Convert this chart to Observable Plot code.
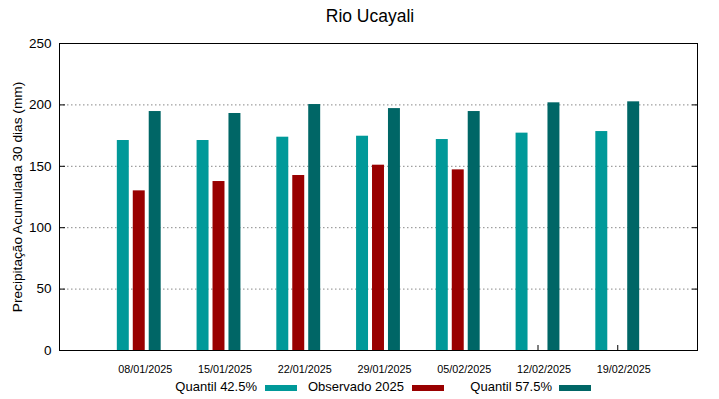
<!DOCTYPE html>
<html>
<head>
<meta charset="utf-8">
<script src="https://cdn.jsdelivr.net/npm/d3@7"></script>
<script src="https://cdn.jsdelivr.net/npm/@observablehq/plot@0.6"></script>
<style>
  body { margin: 0; background: #fff; font-family: "Liberation Sans", Arial, sans-serif; }
  #wrap { position: relative; width: 719px; height: 399px; }
  #title { position: absolute; left: 0; top: 6px; width: 740px; text-align: center; font-size: 17.5px; color: #000; }
  #chart { position: absolute; left: 0; top: 34px; }
  .lt { position: absolute; top: 378px; font-size: 13px; line-height: 18px; text-align: right; width: 120px; color: #000; }
  .sw { position: absolute; top: 385px; width: 32px; height: 6px; }
</style>
</head>
<body>
<div id="wrap">
  <div id="title">Rio Ucayali</div>
  <div id="chart"></div>
  <div id="legend"></div>
</div>
<script>
const dates = ["08/01/2025","15/01/2025","22/01/2025","29/01/2025","05/02/2025","12/02/2025","19/02/2025"];
const seriesNames = ["Quantil 42.5%","Observado 2025","Quantil 57.5%"];
const seriesColors = ["#009999","#990000","#006666"];
const q425 = [171, 171, 173.7, 174.5, 171.8, 177, 178.3];
const obs2025 = [130, 137.6, 142.5, 150.9, 147.1, null, null];
const q575 = [194.6, 193, 200.3, 197, 194.6, 201.7, 202.5];
const yTicks = [0, 50, 100, 150, 200, 250];
const gridTicks = [50, 100, 150, 200];
const yLabel = "Precipitação Acumulada 30 dias (mm)";

const seriesValues = [q425, obs2025, q575];
const offsets = {"Quantil 42.5%": -0.2, "Observado 2025": 0, "Quantil 57.5%": 0.2};
const hw = 0.075;
const rows = [];
seriesNames.forEach((s, k) => seriesValues[k].forEach((v, i) => { if (v != null) rows.push({i, s, v}); }));
const idx = d3.range(dates.length);

const font = '"Liberation Sans", Arial, sans-serif';
const chart = Plot.plot({
  width: 719, height: 342,
  marginLeft: 59, marginRight: 22, marginTop: 9, marginBottom: 26,
  style: {fontFamily: font, fontSize: "13px", color: "#000", background: "transparent"},
  x: {type: "linear", domain: [-1, 7]},
  y: {domain: [0, 250]},
  color: {domain: seriesNames, range: seriesColors},
  marks: [
    Plot.gridY(gridTicks, {stroke: "#888", strokeOpacity: 1, strokeDasharray: "1.5,2.5"}),
    Plot.axisX(idx, {tickSize: -5, tickFormat: () => "", label: null}),
    Plot.rectY(rows, {x1: d => d.i + offsets[d.s] - hw, x2: d => d.i + offsets[d.s] + hw, y1: 0, y2: "v", fill: "s"}),
    Plot.axisX(idx, {tickSize: 0, tickFormat: i => dates[i], fontSize: 10.8, tickPadding: 15, dx: 6, label: null}),
    Plot.axisY(yTicks, {anchor: "left", tickSize: -6, tickPadding: 14, fontSize: 13.5, label: null}),
    Plot.axisY(yTicks, {anchor: "right", tickSize: -6, tickFormat: () => "", label: null}),
    Plot.text([yLabel], {frameAnchor: "left", textAnchor: "middle", dx: -42, rotate: -90, fontSize: 13.7, text: d => d}),
    Plot.frame({stroke: "#000"})
  ]
});
document.getElementById("chart").appendChild(chart);

const legend = document.getElementById("legend");
const textRight = [257, 404, 552];
const swLeft = [265, 412, 559];
seriesNames.forEach((s, k) => {
  const t = document.createElement("div");
  t.className = "lt"; t.textContent = s;
  t.style.left = (textRight[k] - 120) + "px";
  legend.appendChild(t);
  const sw = document.createElement("div");
  sw.className = "sw"; sw.style.left = swLeft[k] + "px"; sw.style.background = seriesColors[k];
  legend.appendChild(sw);
});
</script>
</body>
</html>
